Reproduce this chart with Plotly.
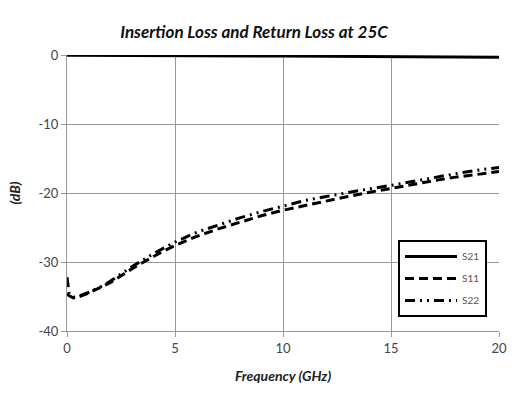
import plotly.graph_objects as go

freq = [0, 0.1, 0.3, 0.5, 1, 1.5, 2, 3, 4, 5, 6, 7, 8, 9, 10, 11, 12, 13, 14, 15, 16, 17, 18, 19, 20]
s21 = [-0.05, -0.05, -0.05, -0.05, -0.06, -0.07, -0.08, -0.09, -0.1, -0.11, -0.12, -0.13, -0.14, -0.15,
       -0.16, -0.17, -0.18, -0.19, -0.2, -0.22, -0.24, -0.26, -0.28, -0.3, -0.32]
s11 = [-34.6, -34.9, -35.2, -35.1, -34.5, -33.8, -33.0, -31.0, -29.2, -27.6, -26.3, -25.2, -24.2, -23.3,
       -22.5, -21.8, -21.1, -20.5, -19.9, -19.3, -18.7, -18.2, -17.7, -17.3, -16.9]
s22 = [-32.2, -34.6, -35.1, -35.0, -34.4, -33.7, -32.8, -30.7, -28.8, -27.1, -25.7, -24.6, -23.6, -22.7,
       -21.9, -21.1, -20.5, -19.9, -19.4, -18.9, -18.3, -17.8, -17.2, -16.7, -16.3]

x_ticks = [0, 5, 10, 15, 20]
y_ticks = [0, -10, -20, -30, -40]
y_tick_text = ["0", "-10", "-20", "-30", "-40"]

fig = go.Figure()
fig.add_trace(go.Scatter(x=freq, y=s21, name="S21", mode="lines", legendgroup="a",
                         line=dict(color="black", width=3)))
fig.add_trace(go.Scatter(x=freq, y=s11, name="S11", mode="lines", legendgroup="b",
                         line=dict(color="black", width=3, dash="9px,5px")))
fig.add_trace(go.Scatter(x=freq, y=s22, name="S22", mode="lines", legendgroup="c",
                         line=dict(color="black", width=3, dash="10px,5px,2px,5px,2px,5px")))

font_family = "Lato, 'DejaVu Sans', sans-serif"
fig.update_layout(
    width=519, height=399,
    margin=dict(l=67, r=20, t=55, b=68),
    paper_bgcolor="white", plot_bgcolor="white",
    title=dict(text="<b><i>Insertion Loss and Return Loss at 25C</i></b>",
               x=254 / 519, xanchor="center", y=1 - 32 / 399, yanchor="middle",
               font=dict(family=font_family, size=17, color="#111111")),
    xaxis=dict(range=[0, 20], tickvals=x_ticks, showgrid=True, gridcolor="#999999", gridwidth=1,
               showline=True, linecolor="#999999", linewidth=1, ticks="outside", ticklen=5,
               tickcolor="#999999", tickfont=dict(family=font_family, size=13, color="#444444"),
               zeroline=False,
               title=dict(text="<b><i>Frequency (GHz)</i></b>", standoff=16,
                          font=dict(family=font_family, size=14, color="#222222"))),
    yaxis=dict(range=[-40, 0], tickvals=y_ticks, ticktext=y_tick_text, showgrid=True,
               gridcolor="#999999", gridwidth=1,
               showline=True, linecolor="#999999", linewidth=1, ticks="outside", ticklen=5,
               tickcolor="#999999", tickfont=dict(family=font_family, size=13, color="#444444"),
               zeroline=False,
               title=dict(text="<b><i>(dB)</i></b>", standoff=14,
                          font=dict(family=font_family, size=14, color="#222222"))),
    legend=dict(x=(398 - 67) / 432, y=(331 - 240) / 276, xanchor="left", yanchor="top",
                bgcolor="white", bordercolor="black", borderwidth=2,
                font=dict(family=font_family, size=10, color="#555555"),
                tracegroupgap=3, itemwidth=52),
    showlegend=True,
)

fig.write_html("out.html")
